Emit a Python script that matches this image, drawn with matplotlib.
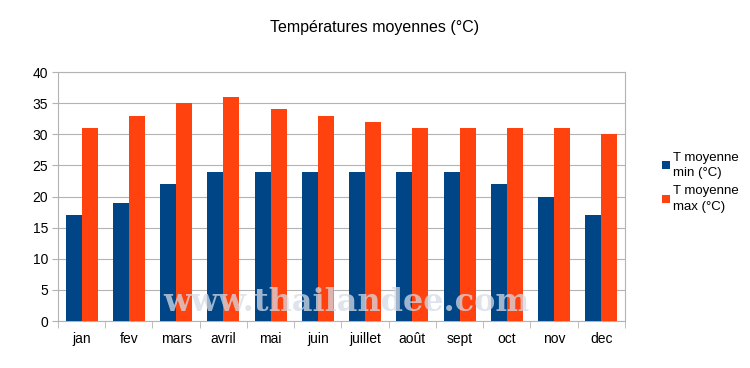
import matplotlib.pyplot as plt
import numpy as np
from matplotlib.patches import Patch

months = ['jan', 'fev', 'mars', 'avril', 'mai', 'juin', 'juillet', 'août', 'sept', 'oct', 'nov', 'dec']
t_min = [17, 19, 22, 24, 24, 24, 24, 24, 24, 22, 20, 17]
t_max = [31, 33, 35, 36, 34, 33, 32, 31, 31, 31, 31, 30]

plt.rcParams['font.family'] = ['Liberation Sans', 'DejaVu Sans']

fig = plt.figure(figsize=(7.5, 3.68), dpi=100)
ax = fig.add_axes([0.0773, 0.1277, 0.756, 0.6766])

x = np.arange(len(months))
w = 0.34
ax.bar(x - w / 2, t_min, w, color='#004586', zorder=3)
ax.bar(x + w / 2, t_max, w, color='#ff420e', zorder=3)

ax.set_xlim(-0.5, len(months) - 0.5)
ax.set_ylim(0, 40)
ax.set_yticks(range(0, 41, 5))
ax.yaxis.grid(True, color='#b3b3b3', linewidth=0.8, zorder=0)
ax.tick_params(axis='y', length=4, color='#b3b3b3', labelsize=10, pad=3)
ax.set_xticks(x)
ax.set_xticklabels(months, fontsize=10)
ax.tick_params(axis='x', length=0, pad=8)
# boundary ticks between categories
ax.set_xticks(np.arange(-0.5, len(months)), minor=True)
ax.tick_params(axis='x', which='minor', length=5, color='#b3b3b3')
for s in ax.spines.values():
    s.set_color('#b3b3b3')

fig.text(0.5, 0.925, 'Températures moyennes (°C)', ha='center', va='center', fontsize=11.5)

# watermark
fig.text(0.462, 0.178, 'www.thailandee.com', ha='center', va='center',
         fontsize=23, fontweight='bold', family='DejaVu Serif',
         color='#d5dbe6', alpha=0.75, zorder=10)

handles = [Patch(facecolor='#004586', label='T moyenne\nmin (°C)'),
           Patch(facecolor='#ff420e', label='T moyenne\nmax (°C)')]
leg = fig.legend(handles=handles, loc='center left', bbox_to_anchor=(0.874, 0.505),
                 frameon=False, fontsize=9.5, handlelength=0.6, handleheight=0.6,
                 handletextpad=0.25, labelspacing=0.5, borderpad=0)
for t in leg.get_texts():
    t.set_linespacing(1.35)

fig.savefig('out.png', dpi=100)
